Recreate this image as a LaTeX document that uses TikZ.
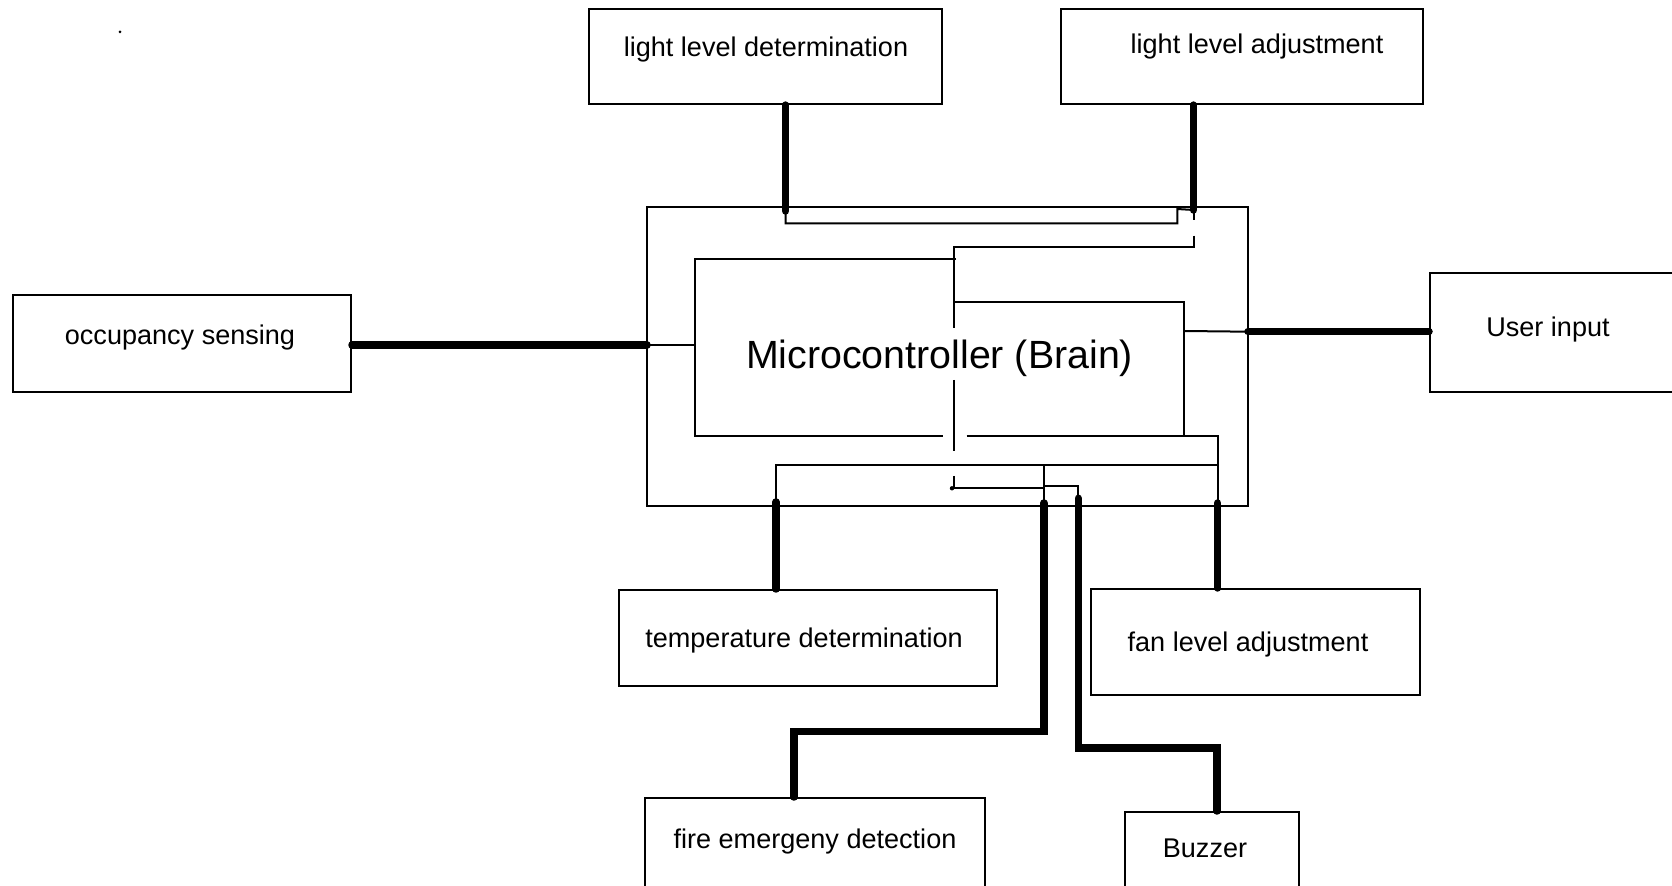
\documentclass[tikz,border=0pt]{standalone}
\usepackage{fontspec}
\setmainfont{Liberation Sans}
\usetikzlibrary{positioning}

\begin{document}
\begin{tikzpicture}[x=0.1mm, y=-0.1mm,
    box/.style={draw, line width=0.2mm, inner sep=0pt},
    lbl/.style={inner sep=0pt, font=\fontsize{7.7}{9}\selectfont},
    wire/.style={line width=0.2mm},
    bus/.style={line width=0.75mm, line cap=round}]
    % Page size and clipping of the boxes cut by the border
    \useasboundingbox (0,0) rectangle (1672,886);
    \clip (0,0) rectangle (1672,886);
    \fill[white] (0,0) rectangle (1672,886);

    % Blocks around the controller
    \node[box, minimum width=35.3mm, minimum height=9.47mm] (lightdet) at (765.5,56.7) {};
    \node[box, minimum width=36.2mm, minimum height=9.47mm] (lightadj) at (1242,56.7) {};
    \node[box, minimum width=33.8mm, minimum height=9.7mm] (occupancy) at (182,343.5) {};
    \node[box, minimum width=26mm, minimum height=11.9mm] (user) at (1560,332.5) {};
    \node[box, minimum width=37.8mm, minimum height=9.6mm] (temp) at (808,638) {};
    \node[box, minimum width=32.9mm, minimum height=10.6mm] (fanadj) at (1255.5,642) {};
    \node[box, minimum width=34mm, minimum height=10.2mm] (firedet) at (815,849) {};
    \node[box, minimum width=17.4mm, minimum height=8.8mm] (buzzer) at (1212,856) {};

    % Outer board
    \node[box, minimum width=60.1mm, minimum height=29.9mm] (board) at (947.5,356.5) {};

    % Block labels
    \node[lbl] (lightdettxt) at (766,50) {light level determination};
    \node[lbl] (lightadjtxt) at (1257,47) {light level adjustment};
    \node[lbl] (occupancytxt) at (180,338) {occupancy sensing};
    \node[lbl] (usertxt) at (1548,330) {User input};
    \node[lbl] (temptxt) at (804,641) {temperature determination};
    \node[lbl] (fanadjtxt) at (1248,645) {fan level adjustment};
    \node[lbl] (firedettxt) at (815,842) {fire emergeny detection};
    \node[lbl] (buzzertxt) at (1205,848) {Buzzer};
    \node[inner sep=0pt, font=\fontsize{11.2}{13}\selectfont] (mcu) at (939.6,358) {Microcontroller (Brain)};

    % Pins on the board
    \coordinate (ldpin) at (785.6,211);
    \coordinate (lapin) at (1193.5,210);
    \coordinate (occpin) at (647,345);
    \coordinate (usrpin) at (1248,331.7);
    \coordinate (temppin) at (776,502);
    \coordinate (fanpin) at (1217.7,503);
    \coordinate (firepin) at (1043.8,503);
    \coordinate (buzzpin) at (1078.3,498.3);
    \coordinate (firebend) at (794,731.7);
    \coordinate (buzzbend) at (1217,748);

    % Inner controller outline
    \draw[wire] (956,259) -- (695,259) -- (695,436) -- (942.7,436);
    \draw[wire] (966.7,436) -- (fanpin |- 966.7,436) -- (fanpin);
    \draw[wire] (954,301.7) -- (1184,301.7) -- (1184,436);

    % Thin wiring inside the board
    \draw[wire] (ldpin) -- (785.6,223.3) -- (1177.3,223.3) -- (1177.3,209) -- (lapin);
    \draw[wire] (1194.3,213) -- (1194.3,220);
    \draw[wire] (1194.3,235.7) -- (1194.3,247.5) -- (954,247.5) -- (954,328);
    \draw[wire] (954,380) -- (954,450.7);
    \draw[wire] (954,476) -- (954,488.3) -- (1043.8,488.3);
    \draw[wire] (1043.8,486.5) -- (1078.3,486.5) -- (buzzpin);
    \fill (952,488.3) circle (0.22mm);
    \draw[wire] (occpin) -- (695,345);
    \draw[wire] (1184,331) -- (usrpin);
    \draw[wire] (temppin) -- (776,465) -- (1217.7,465);
    \draw[wire] (1043.8,465) -- (firepin);

    % Thick connections to the blocks
    \draw[bus] (lightdet.south -| ldpin) -- (ldpin);
    \draw[bus] (lightadj.south -| lapin) -- (lapin);
    \draw[bus] (occupancy.east |- occpin) -- (occpin);
    \draw[bus] (usrpin) -- (user.west |- usrpin);
    \draw[bus] (temppin) -- (temppin |- temp.north);
    \draw[bus] (fanpin) -- (fanpin |- fanadj.north);
    \draw[bus] (firepin) |- (firebend) -- (firebend |- firedet.north);
    \draw[bus] (buzzpin) |- (buzzbend) -- (buzzbend |- buzzer.north);

    % stray speck
    \fill (120,32) circle (0.15mm);
\end{tikzpicture}
\end{document}
